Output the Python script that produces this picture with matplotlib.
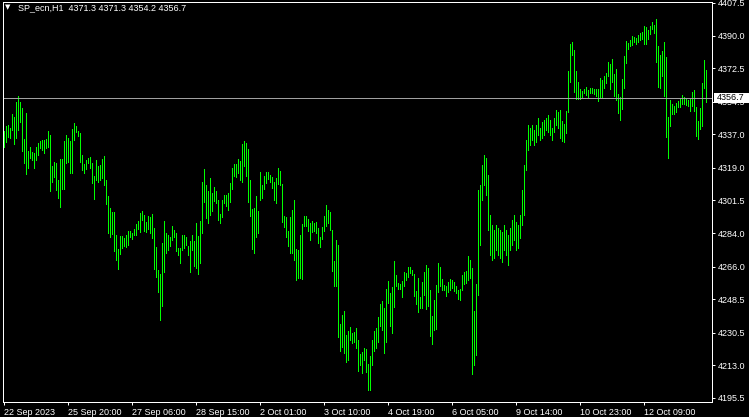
import numpy as np
import matplotlib
matplotlib.use('Agg')
import matplotlib.pyplot as plt
from matplotlib.patches import Rectangle
from matplotlib.transforms import blended_transform_factory

plt.rcParams['font.family'] = ['Liberation Sans', 'DejaVu Sans']

symbol = 'SP_ecn,H1'
last_ohlc = [4371.3, 4371.3, 4354.2, 4356.7]
bid = 4356.7

# hourly highs / lows, oldest first
highs = [
    4338.8, 4341.5, 4342.2, 4340.4, 4348.0, 4346.5, 4354.3, 4357.6, 4354.3, 4351.1,
    4334.5, 4348.5, 4328.2, 4330.2, 4327.7, 4327.0, 4330.4, 4332.6, 4333.5, 4334.0,
    4334.0, 4334.5, 4338.8, 4336.8, 4320.0, 4322.3, 4321.6, 4312.5, 4323.8, 4323.8,
    4333.5, 4336.6, 4335.0, 4333.5, 4339.9, 4343.1, 4341.3, 4338.9, 4337.7, 4325.9,
    4321.1, 4323.2, 4324.5, 4324.8, 4321.4, 4314.7, 4323.2, 4320.0, 4320.5, 4323.8,
    4325.4, 4312.5, 4303.9, 4297.5, 4295.3, 4295.3, 4283.0, 4275.6, 4282.6, 4282.3,
    4281.5, 4283.2, 4285.2, 4285.2, 4284.3, 4286.3, 4288.9, 4290.5, 4294.8, 4295.9,
    4293.7, 4290.1, 4293.0, 4292.5, 4294.3, 4286.9, 4276.5, 4264.0, 4262.1, 4278.7,
    4290.5, 4284.3, 4283.0, 4281.9, 4287.8, 4285.7, 4283.9, 4275.8, 4276.0, 4283.0,
    4283.0, 4282.1, 4277.2, 4279.8, 4283.0, 4279.8, 4289.6, 4282.5, 4290.5, 4311.4,
    4318.3, 4309.8, 4306.6, 4313.6, 4305.7, 4308.6, 4306.6, 4301.8, 4294.3, 4301.8,
    4304.4, 4304.4, 4305.4, 4310.7, 4318.8, 4321.3, 4320.9, 4323.6, 4322.7, 4331.9,
    4333.5, 4332.6, 4329.1, 4312.5, 4296.9, 4297.6, 4303.9, 4295.9, 4316.6, 4309.8,
    4314.8, 4316.6, 4316.8, 4315.3, 4314.1, 4311.3, 4313.4, 4319.0, 4317.4, 4310.5,
    4293.2, 4292.8, 4285.2, 4292.6, 4296.4, 4301.8, 4275.4, 4274.9, 4283.0, 4288.9,
    4293.2, 4293.2, 4291.5, 4289.6, 4290.6, 4289.2, 4290.1, 4286.6, 4281.7, 4287.5,
    4293.2, 4299.1, 4296.4, 4295.3, 4285.7, 4269.0, 4280.3, 4277.6, 4235.2, 4240.0,
    4242.2, 4229.3, 4231.5, 4233.4, 4230.5, 4231.1, 4233.1, 4226.6, 4219.0, 4220.2,
    4222.2, 4221.6, 4213.8, 4218.1, 4226.6, 4231.5, 4233.2, 4238.8, 4245.9, 4247.6,
    4243.9, 4254.0, 4258.3, 4251.7, 4255.2, 4269.0, 4261.5, 4257.0, 4256.7, 4258.3,
    4263.3, 4262.4, 4265.6, 4265.6, 4264.2, 4262.1, 4253.1, 4260.1, 4249.9, 4257.9,
    4263.3, 4266.9, 4265.1, 4253.5, 4239.5, 4248.1, 4256.1, 4268.1, 4266.0, 4259.4,
    4256.1, 4255.8, 4257.8, 4259.2, 4258.8, 4257.9, 4255.6, 4253.5, 4254.0, 4261.5,
    4263.0, 4263.7, 4271.7, 4269.6, 4265.1, 4242.2, 4256.7, 4307.1, 4309.8, 4320.5,
    4325.9, 4324.3, 4315.2, 4293.7, 4288.3, 4285.7, 4288.3, 4286.7, 4285.7, 4284.6,
    4288.3, 4285.7, 4283.0, 4286.7, 4291.0, 4293.7, 4289.9, 4288.3, 4293.7, 4307.1,
    4320.5, 4334.0, 4342.0, 4340.4, 4342.0, 4339.3, 4342.0, 4345.7, 4340.4, 4343.6,
    4344.7, 4345.7, 4347.4, 4344.7, 4340.4, 4345.7, 4350.1, 4349.0, 4350.1, 4344.2,
    4342.6, 4349.5, 4371.0, 4385.5, 4386.6, 4382.3, 4371.0, 4365.1, 4361.3, 4360.3,
    4361.3, 4362.4, 4360.8, 4361.9, 4362.1, 4361.6, 4361.2, 4361.3, 4367.1, 4366.2,
    4368.3, 4369.9, 4375.8, 4374.7, 4377.4, 4369.4, 4372.1, 4358.7, 4356.9, 4366.7,
    4379.0, 4387.1, 4386.2, 4387.6, 4389.8, 4389.4, 4388.7, 4390.3, 4391.2, 4391.9,
    4395.3, 4394.8, 4393.0, 4395.3, 4397.1, 4395.8, 4398.9, 4384.4, 4379.6, 4381.7,
    4386.6, 4378.5, 4346.5, 4355.4, 4353.3, 4352.2, 4354.0, 4355.0, 4355.9, 4358.1,
    4356.9, 4356.3, 4355.4, 4355.9, 4359.9, 4360.8, 4351.5, 4344.2, 4351.0, 4364.6,
    4376.9, 4371.3,
]
lows = [
    4330.4, 4332.9, 4335.7, 4335.0, 4339.3, 4331.9, 4335.0, 4339.3, 4343.8, 4328.1,
    4321.6, 4315.9, 4319.1, 4324.3, 4323.2, 4318.9, 4323.2, 4325.9, 4329.7, 4328.6,
    4327.0, 4329.7, 4330.4, 4306.7, 4311.4, 4314.1, 4307.1, 4303.0, 4298.2, 4307.7,
    4307.7, 4321.8, 4322.3, 4316.3, 4316.3, 4334.0, 4338.4, 4336.2, 4322.3, 4317.9,
    4316.4, 4318.4, 4321.4, 4319.1, 4311.1, 4302.4, 4312.5, 4311.4, 4312.3, 4313.4,
    4310.0, 4299.8, 4284.3, 4281.8, 4283.7, 4274.4, 4269.6, 4264.9, 4272.9, 4276.2,
    4277.2, 4276.7, 4277.8, 4281.8, 4280.8, 4283.0, 4283.2, 4286.0, 4284.8, 4291.0,
    4285.2, 4284.8, 4286.0, 4283.9, 4281.5, 4264.9, 4260.6, 4252.6, 4237.6, 4244.9,
    4263.3, 4273.5, 4274.9, 4277.1, 4280.3, 4282.1, 4274.5, 4272.4, 4268.1, 4274.9,
    4275.8, 4277.5, 4272.2, 4263.3, 4274.9, 4266.4, 4265.1, 4262.2, 4267.8, 4284.3,
    4300.9, 4291.9, 4289.6, 4293.7, 4296.0, 4301.1, 4300.4, 4291.0, 4289.6, 4292.5,
    4300.0, 4298.6, 4296.4, 4300.9, 4307.5, 4314.7, 4314.3, 4316.4, 4312.5, 4311.6,
    4320.0, 4314.7, 4300.9, 4293.2, 4275.4, 4273.5, 4282.1, 4284.3, 4301.8, 4302.7,
    4307.5, 4310.7, 4312.9, 4311.6, 4308.3, 4301.8, 4300.3, 4310.2, 4309.8, 4290.1,
    4287.4, 4282.1, 4277.1, 4273.5, 4273.5, 4269.6, 4258.8, 4259.9, 4259.9, 4259.5,
    4288.0, 4287.8, 4285.3, 4280.3, 4284.6, 4285.3, 4283.9, 4278.9, 4276.7, 4280.7,
    4285.3, 4288.0, 4289.2, 4285.7, 4263.7, 4255.6, 4255.6, 4228.4, 4220.7, 4223.0,
    4219.8, 4215.0, 4215.9, 4226.6, 4224.8, 4225.7, 4222.5, 4210.0, 4213.2, 4209.1,
    4215.9, 4209.6, 4199.8, 4199.8, 4213.2, 4220.7, 4222.5, 4225.7, 4234.1, 4232.0,
    4219.5, 4225.7, 4246.7, 4234.1, 4230.5, 4244.5, 4255.6, 4254.0, 4254.0, 4249.9,
    4255.8, 4258.8, 4260.3, 4262.4, 4261.5, 4250.2, 4245.9, 4241.8, 4243.6, 4243.6,
    4250.8, 4243.3, 4244.9, 4228.8, 4224.5, 4232.0, 4232.4, 4252.6, 4255.8, 4253.5,
    4253.5, 4250.2, 4252.6, 4253.5, 4254.4, 4252.9, 4252.0, 4248.8, 4248.1, 4253.5,
    4256.5, 4257.0, 4258.8, 4259.7, 4208.4, 4213.2, 4218.6, 4250.8, 4277.6, 4301.8,
    4309.8, 4304.4, 4285.7, 4272.2, 4269.6, 4270.7, 4274.9, 4272.2, 4270.7, 4268.5,
    4274.9, 4272.2, 4266.9, 4274.9, 4277.6, 4280.3, 4274.9, 4276.0, 4281.4, 4288.3,
    4293.7, 4317.9, 4328.6, 4331.3, 4334.0, 4331.3, 4332.9, 4336.6, 4334.0, 4335.0,
    4336.6, 4339.3, 4338.2, 4336.6, 4334.0, 4338.2, 4342.0, 4340.4, 4335.0, 4333.5,
    4332.9, 4337.9, 4349.2, 4365.1, 4379.6, 4359.9, 4356.0, 4356.1, 4356.1, 4356.9,
    4359.0, 4358.0, 4356.9, 4359.0, 4359.3, 4358.8, 4357.6, 4354.9, 4357.2, 4356.9,
    4361.7, 4364.4, 4368.3, 4361.3, 4365.1, 4357.6, 4355.4, 4348.6, 4344.9, 4350.6,
    4362.0, 4375.5, 4382.8, 4384.4, 4384.9, 4386.6, 4385.5, 4386.7, 4387.6, 4388.3,
    4385.5, 4385.5, 4388.3, 4390.8, 4393.4, 4391.5, 4376.0, 4362.2, 4362.0, 4368.3,
    4357.6, 4335.7, 4324.5, 4341.5, 4347.9, 4347.9, 4349.1, 4351.5, 4351.8, 4353.3,
    4353.3, 4352.7, 4352.2, 4349.5, 4352.2, 4349.5, 4336.1, 4334.5, 4339.9, 4341.5,
    4361.7, 4354.2,
]

price_ticks = [4407.5, 4390.0, 4372.5, 4354.5, 4337.0, 4319.0, 4301.5,
               4284.0, 4266.0, 4248.5, 4230.5, 4213.0, 4195.5]
date_ticks = [0, 32, 64, 96, 128, 160, 192, 224, 256, 288, 320]
date_labels = ['22 Sep 2023', '25 Sep 20:00', '27 Sep 06:00', '28 Sep 15:00',
               '2 Oct 01:00', '3 Oct 10:00', '4 Oct 19:00', '6 Oct 05:00',
               '9 Oct 14:00', '10 Oct 23:00', '12 Oct 09:00']

W, H = 749, 417
fig = plt.figure(figsize=(W / 100, H / 100), dpi=100, facecolor='black')
ax = fig.add_axes([2.5 / W, (H - 401.5) / H, 709 / W, 400 / H], facecolor='black')

x = np.arange(len(highs))
ax.vlines(x, lows, highs, colors='#00ff00', lw=0.72, antialiased=False)
ax.axhline(bid, color='#a0a0a0', lw=0.72, antialiased=False)

ax.set_xlim(-0.5, 354)
ax.set_ylim(4193.6, 4408.3)
for s in ax.spines.values():
    s.set_color('white')
    s.set_linewidth(0.72)

ax.yaxis.tick_right()
ax.set_yticks(price_ticks)
ax.set_yticklabels(['%.1f' % p for p in price_ticks])
ax.set_xticks(date_ticks)
ax.set_xticklabels(date_labels, ha='left')
ax.tick_params(colors='white', labelsize=6.5, length=2.5, width=0.72, pad=2)

# bid price box on the scale
tr = blended_transform_factory(ax.transAxes, ax.transData)
ax.add_patch(Rectangle((1 + 2 / 709, bid - 2.7), 0.06, 5.4, transform=tr,
                       facecolor='white', edgecolor='none', clip_on=False, zorder=10))
ax.text(1 + 5 / 709, bid, '%.1f' % bid, transform=tr, color='black', fontsize=6.5,
        va='center', ha='left', zorder=11, clip_on=False)

# header
fig.text(8 / W, 1 - 7 / H, '\u25bc', color='white', fontsize=5, ha='center',
         va='center', family='DejaVu Sans')
fig.text(18 / W, 1 - 8 / H, symbol + '  ' + ' '.join('%.1f' % v for v in last_ohlc),
         color='white', fontsize=6.5, va='center')

fig.savefig('out.png', dpi=100, facecolor='black')
